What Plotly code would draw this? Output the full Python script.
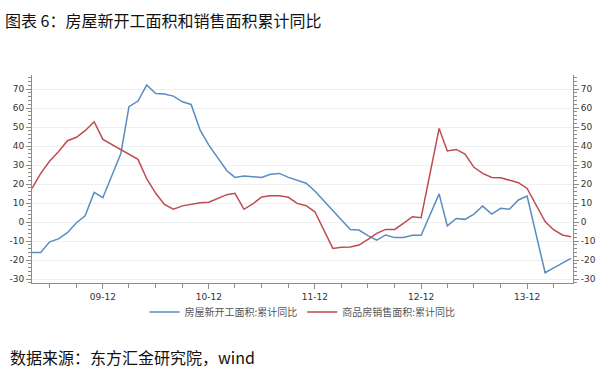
import plotly.graph_objects as go

months = [
    "2009-04", "2009-05", "2009-06", "2009-07", "2009-08", "2009-09", "2009-10", "2009-11", "2009-12",
    "2010-02", "2010-03", "2010-04", "2010-05", "2010-06", "2010-07", "2010-08", "2010-09", "2010-10", "2010-11", "2010-12",
    "2011-02", "2011-03", "2011-04", "2011-05", "2011-06", "2011-07", "2011-08", "2011-09", "2011-10", "2011-11", "2011-12",
    "2012-02", "2012-03", "2012-04", "2012-05", "2012-06", "2012-07", "2012-08", "2012-09", "2012-10", "2012-11", "2012-12",
    "2013-02", "2013-03", "2013-04", "2013-05", "2013-06", "2013-07", "2013-08", "2013-09", "2013-10", "2013-11", "2013-12",
    "2014-02", "2014-03", "2014-04", "2014-05",
]

new_start = [
    -16.0, -16.0, -10.4, -8.9, -5.6, -0.4, 3.3, 15.6, 12.8,
    36.1, 60.7, 63.7, 72.1, 67.7, 67.4, 66.3, 63.3, 61.9, 48.4, 40.5,
    27.0, 23.5, 24.2, 23.9, 23.5, 25.1, 25.6, 23.5, 21.8, 20.4, 16.3,
    5.8, 1.0, -4.0, -4.2, -7.2, -9.6, -6.8, -8.2, -8.2, -7.0, -7.0,
    14.8, -2.0, 1.9, 1.4, 4.2, 8.4, 4.2, 7.2, 6.7, 11.6, 13.7,
    -26.7, -24.3, -21.7, -19.1,
]

sales = [
    17.7, 25.6, 32.1, 37.0, 42.8, 44.6, 48.1, 52.8, 43.5,
    38.2, 36.1, 33.0, 22.8, 15.1, 9.3, 6.8, 8.5, 9.5, 10.2, 10.4,
    14.4, 15.1, 6.7, 9.5, 13.2, 13.8, 13.8, 13.0, 9.8, 8.6, 5.4,
    -13.9, -13.3, -13.1, -12.1, -9.1, -6.0, -3.9, -3.9, -0.7, 2.8, 2.3,
    49.3, 37.4, 38.2, 35.8, 28.8, 25.6, 23.5, 23.3, 22.1, 20.7, 17.7,
    0.2, -3.9, -6.8, -7.7,
]

x_tick_vals = ["2009-12-01", "2010-12-01", "2011-12-01", "2012-12-01", "2013-12-01"]
x_tick_text = ["09-12", "10-12", "11-12", "12-12", "13-12"]
x_minor_vals = [
    "2009-06-01", "2009-09-01",
    "2010-03-01", "2010-06-01", "2010-09-01",
    "2011-03-01", "2011-06-01", "2011-09-01",
    "2012-03-01", "2012-06-01", "2012-09-01",
    "2013-03-01", "2013-06-01", "2013-09-01",
    "2014-03-01",
]
y_ticks = [-30, -20, -10, 0, 10, 20, 30, 40, 50, 60, 70]
y_tick_text = ["-30", "-20", "-10", "0", "10", "20", "30", "40", "50", "60", "70"]

name_new = "房屋新开工面积:累计同比"
name_sales = "商品房销售面积:累计同比"
title_text = "图表 6：房屋新开工面积和销售面积累计同比"
source_text = "数据来源：东方汇金研究院，wind"

x_dates = [m + "-01" for m in months]

fig = go.Figure()
fig.add_trace(go.Scatter(x=x_dates, y=new_start, mode="lines", name=name_new,
                         line=dict(color="#5a8cc0", width=1.5), yaxis="y"))
fig.add_trace(go.Scatter(x=x_dates, y=sales, mode="lines", name=name_sales,
                         line=dict(color="#bf4b4e", width=1.5), yaxis="y2"))

yrange = [-32.1, 77.4]
axis_col = "#8c8c8c"
tick_font = dict(family="DejaVu Sans", size=9, color="#333333")

ML, MR, MT, MB = 32, 29, 75, 92
W, H = 602, 375
plot_h = H - MT - MB
plot_w = W - ML - MR

yaxis_common = dict(
    range=yrange,
    tickmode="array", tickvals=y_ticks, ticktext=y_tick_text,
    ticks="outside", ticklen=5, tickcolor=axis_col,
    showline=True, linecolor=axis_col, linewidth=1,
    zeroline=False, automargin=False,
    tickfont=tick_font,
    minor=dict(dtick=2, tick0=0, ticks="outside", ticklen=3, tickcolor=axis_col, showgrid=False),
)

fig.update_layout(
    width=W, height=H,
    margin=dict(l=ML, r=MR, t=MT, b=MB, autoexpand=False),
    paper_bgcolor="white", plot_bgcolor="white",
    showlegend=True,
    legend=dict(orientation="h", x=0.5, xanchor="center", xref="paper",
                y=-0.07, yanchor="top", bgcolor="rgba(0,0,0,0)",
                font=dict(family="Noto Sans CJK SC", size=10, color="#555555"),
                itemwidth=30, tracegroupgap=0),
    xaxis=dict(
        type="date",
        range=["2009-04-01", "2014-05-08"],
        tickmode="array", tickvals=x_tick_vals, ticktext=x_tick_text,
        ticks="outside", ticklen=5, tickcolor=axis_col,
        showline=True, linecolor=axis_col, linewidth=1,
        showgrid=False, zeroline=False, automargin=False,
        tickfont=tick_font,
        minor=dict(tickvals=x_minor_vals, ticks="outside", ticklen=4, tickcolor=axis_col, showgrid=False),
    ),
    yaxis=dict(yaxis_common, showgrid=True, gridcolor="#efefef", gridwidth=1),
    yaxis2=dict(yaxis_common, overlaying="y", side="right", showgrid=False),
    annotations=[
        dict(text=title_text, xref="paper", yref="paper",
             x=(3 - ML) / plot_w, y=1 + (MT - 20) / plot_h,
             xanchor="left", yanchor="middle",
             showarrow=False, font=dict(family="Noto Sans CJK SC", size=16, color="#111111")),
        dict(text=source_text, xref="paper", yref="paper",
             x=(8 - ML) / plot_w, y=-(357 - (H - MB)) / plot_h,
             xanchor="left", yanchor="middle",
             showarrow=False, font=dict(family="Noto Sans CJK SC", size=16, color="#111111")),
    ],
)

fig.write_html("out.html", config={"displayModeBar": False},
               post_script="document.body.style.margin='0';document.body.style.padding='0';")
